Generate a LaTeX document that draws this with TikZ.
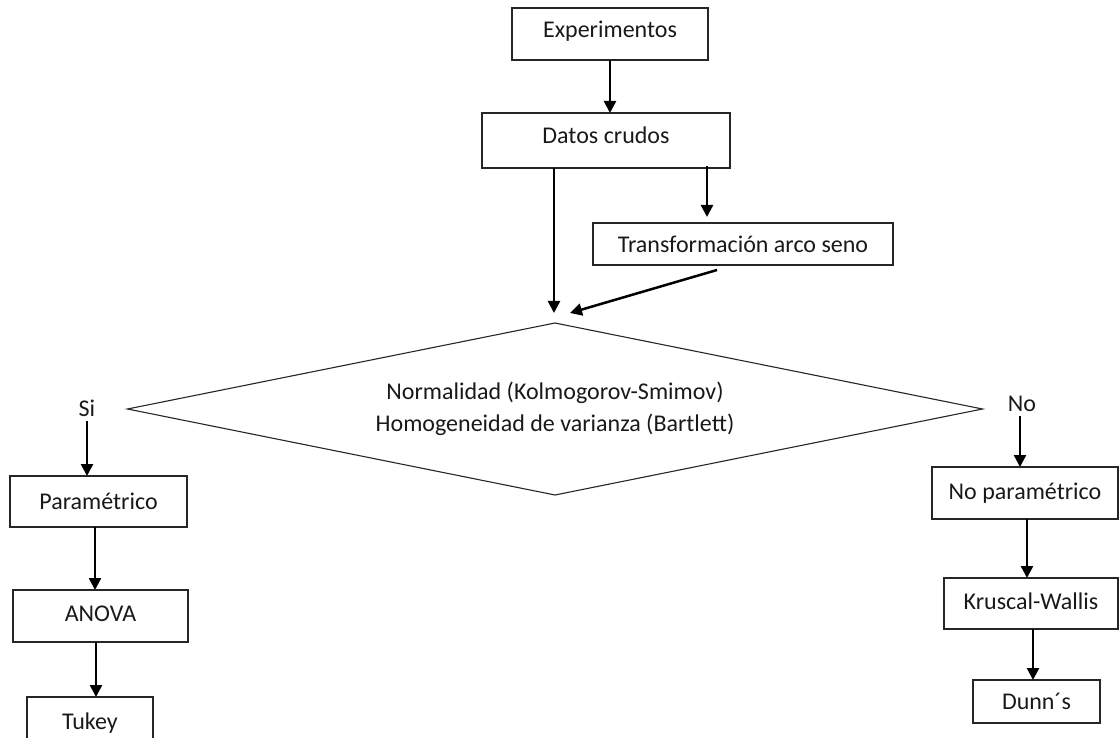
\documentclass[tikz,border=0pt]{standalone}
\usepackage{fontspec}
\setmainfont{Carlito}
\usetikzlibrary{arrows.meta,shapes.geometric}
\newcommand{\lift}[2]{\raisebox{#1}[\height][\depth]{#2}}
\begin{document}
\begin{tikzpicture}[x=1pt,y=-1pt,
  every node/.style={font=\fontsize{24}{32}\selectfont, text=black!90},
  box/.style={draw=black!85, line width=1.1pt, inner sep=0pt, outer sep=0pt, align=center},
  arr/.style={-{Triangle[length=12pt,width=12pt]}, line width=2.5pt, black}]
\useasboundingbox (0,0) rectangle (1120,738);
\clip (0,0) rectangle (1120,738);

% main chain
\node[box, minimum width=196pt, minimum height=52pt] (exp) at (610,34) {\lift{3pt}{Experimentos}};
\node[box, minimum width=248pt, minimum height=55pt] (datos) at (606,140.5) {\lift{5pt}{Datos crudos}};
\node[box, minimum width=300pt, minimum height=42pt] (trans) at (743,244) {Transformación arco seno};

% decision
\node[diamond, draw=black!85, line width=1.1pt, inner sep=0pt, outer sep=0pt,
      aspect=4.97, minimum width=855pt, minimum height=172pt, align=center] (test) at (555,409)
  {Normalidad (Kolmogorov-Smimov)\\Homogeneidad de varianza (Bartlett)};

\node[inner sep=0pt] (si) at (87,408) {Si};
\node[inner sep=0pt] (no) at (1022,404) {No};

% parametric branch
\node[box, minimum width=177pt, minimum height=51pt] (param) at (98.5,501.5) {Paramétrico};
\node[box, minimum width=175pt, minimum height=52pt] (anova) at (100.5,616) {\lift{2pt}{ANOVA}};
\node[box, minimum width=126pt, minimum height=52pt] (tukey) at (90,723) {Tukey};

% non-parametric branch
\node[box, minimum width=186pt, minimum height=52pt] (nopar) at (1025,493) {No paramétrico};
\node[box, minimum width=174pt, minimum height=51pt] (krus) at (1031,603.5) {\lift{2pt}{Kruscal-Wallis}};
\node[box, minimum width=127pt, minimum height=43pt] (dunn) at (1036.5,701.5) {Dunn´s};

% connectors
\draw[arr] (exp.south) -- (exp.south |- datos.north);
\draw[arr, shorten >=6pt] ([xshift=101pt,yshift=2pt]datos.south) -- ([xshift=101pt]datos.south |- trans.north);
\draw[arr, shorten >=10pt] ([xshift=-52pt]datos.south) -- ([xshift=-52pt]datos.south |- test.north);
\draw[arr] ([xshift=-26pt,yshift=-5pt]trans.south) -- ([xshift=15pt,yshift=10pt]test.north);

\draw[arr] ([yshift=-4pt]si.south) -- (si.south |- param.north);
\draw[arr] ([xshift=-3.5pt]param.south) -- ([xshift=-3.5pt]param.south |- anova.north);
\draw[arr] ([xshift=-4.5pt]anova.south) -- ([xshift=-4.5pt]anova.south |- tukey.north);

\draw[arr] ([xshift=-2pt,yshift=-4pt]no.south) -- ([xshift=-2pt]no.south |- nopar.north);
\draw[arr] ([xshift=2pt]nopar.south) -- ([xshift=2pt]nopar.south |- krus.north);
\draw[arr] ([xshift=2pt]krus.south) -- ([xshift=2pt]krus.south |- dunn.north);
\end{tikzpicture}
\end{document}
